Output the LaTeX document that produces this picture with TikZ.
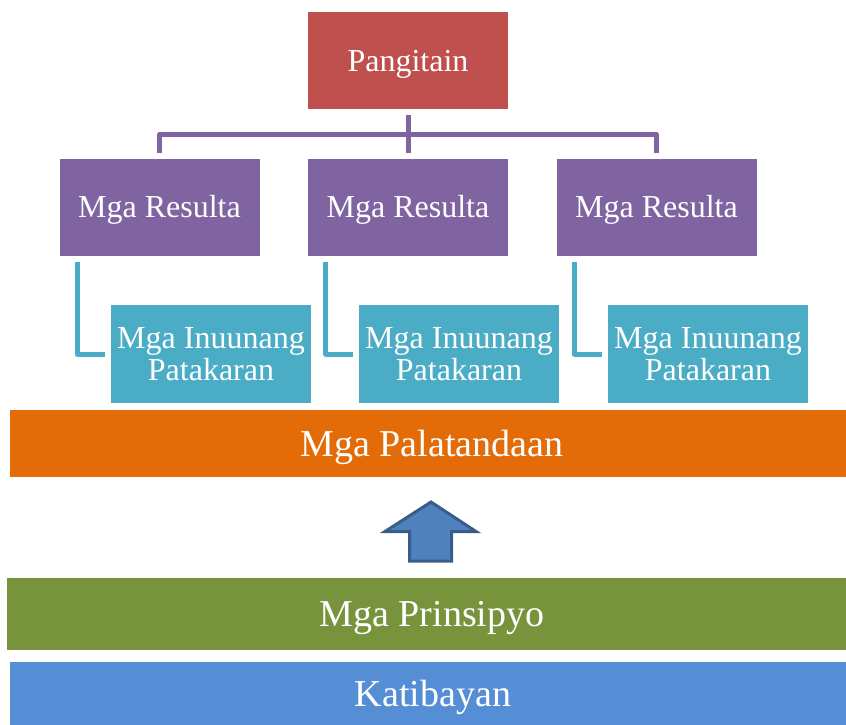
\documentclass[tikz,border=0pt]{standalone}
\usepackage{fontspec}
\setmainfont{Liberation Serif}
\definecolor{cred}{HTML}{C0504D}
\definecolor{cpurple}{HTML}{8064A2}
\definecolor{cteal}{HTML}{4BACC6}
\definecolor{corange}{HTML}{E36C09}
\definecolor{cgreen}{HTML}{77933C}
\definecolor{cblue}{HTML}{558ED5}
\definecolor{carrow}{HTML}{4F81BD}
\definecolor{carrowb}{HTML}{385D8A}
\begin{document}
\begin{tikzpicture}[x=1pt,y=-1pt,
  sbox/.style={fill=#1, draw=none, inner sep=0pt, text=white,
    minimum width=200pt, minimum height=97pt,
    font=\fontsize{32}{32}\selectfont, text height=21pt, text depth=0pt},
  ibox/.style={fill=cteal, draw=none, inner sep=0pt, text=white,
    minimum width=200pt, minimum height=98pt, align=center,
    font=\fontsize{32}{32}\selectfont, text height=53pt, text depth=0pt},
  bar/.style={fill=#1, draw=none, inner sep=0pt, text=white,
    font=\fontsize{38}{38}\selectfont, text height=25pt, text depth=0pt},
  pline/.style={draw=cpurple, line width=5pt, line join=round},
  tline/.style={draw=cteal, line width=5pt, line join=round},
]
\useasboundingbox (0,0) rectangle (846,725);
% top
\node[sbox=cred] (P) at (408,60.5) {Pangitain};
\node[sbox=cpurple] (R1) at (159.5,207) {Mga Resulta};
\node[sbox=cpurple] (R2) at (408,207) {Mga Resulta};
\node[sbox=cpurple] (R3) at (656.5,207) {Mga Resulta};
\node[ibox] (I1) at (211,354) {Mga Inuunang\\Patakaran};
\node[ibox] (I2) at (459,354) {Mga Inuunang\\Patakaran};
\node[ibox] (I3) at (708,354) {Mga Inuunang\\Patakaran};
% connectors
\draw[pline] ([yshift=-6pt]P.south) -- ([yshift=5pt]R2.north);
\draw[pline] ([yshift=5pt]R1.north) -- ++(0,-19) -| ([yshift=5pt]R3.north);
\draw[tline] ([xshift=18pt,yshift=-6pt]R1.south west) |- ([xshift=-6pt]I1.west);
\draw[tline] ([xshift=18pt,yshift=-6pt]R2.south west) |- ([xshift=-6pt]I2.west);
\draw[tline] ([xshift=18pt,yshift=-6pt]R3.south west) |- ([xshift=-6pt]I3.west);
% bars (they run past the right edge of the page)
\node[bar=corange, minimum width=844pt, minimum height=67pt] (PAL) at (432,443.5) {Mga Palatandaan};
\node[bar=cgreen, minimum width=851pt, minimum height=72pt] (PRI) at (432,614) {Mga Prinsipyo};
\node[bar=cblue, minimum width=846pt, minimum height=63pt] (KAT) at (433,693.5) {Katibayan};
% arrow
\draw[fill=carrow, draw=carrowb, line width=3pt, line join=miter]
  (431,502) -- (476,531.5) -- (451.5,531.5) -- (451.5,561) -- (409.5,561)
  -- (409.5,531.5) -- (385,531.5) -- cycle;
\end{tikzpicture}
\end{document}
